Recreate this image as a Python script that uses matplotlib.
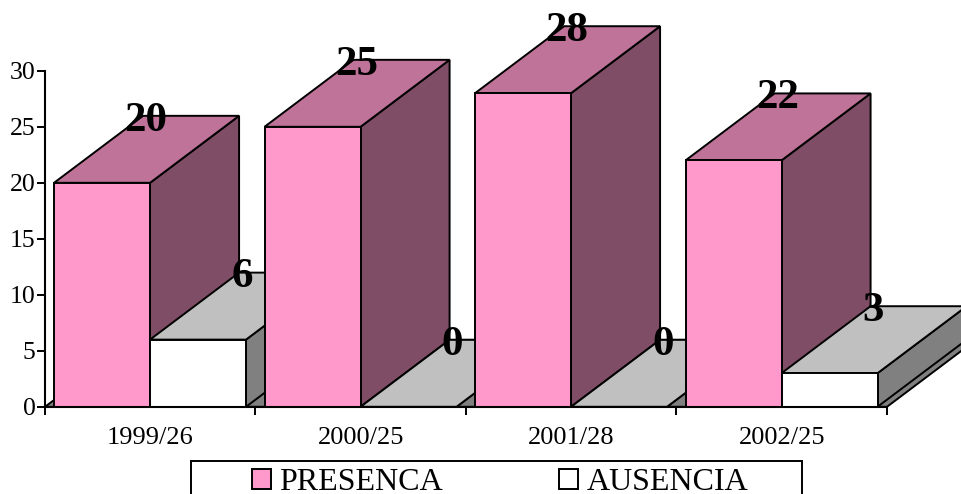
import matplotlib
matplotlib.use("Agg")
import matplotlib.pyplot as plt

from matplotlib.patches import Patch, Polygon, Rectangle

categories = ["1999/26", "2000/25", "2001/28", "2002/25"]
presenca   = [20, 25, 28, 22]
ausencia   = [6, 0, 0, 3]

WIDTH, HEIGHT = 962, 494
EDGE = "black"
LINE = 1.4

# pseudo 3D depth, in axis units
BAR_WIDTH = 0.456
BAR_GAP   = 0.043
DEPTH_X   = 0.423
DEPTH_Y   = 5.98

PINK_FACES = ("#FF99CC", "#BF7399", "#804D66")
WHITE_FACES = ("#FFFFFF", "#C0C0C0", "#808080")

plt.rcParams["font.family"] = ["Liberation Serif", "DejaVu Serif"]


def draw_box(ax, left, value, faces):
    front, top, side = faces
    right = left + BAR_WIDTH
    shapes = [
        (side, [(right, 0), (right + DEPTH_X, DEPTH_Y), (right + DEPTH_X, value + DEPTH_Y), (right, value)]),
        (top, [(left, value), (right, value), (right + DEPTH_X, value + DEPTH_Y), (left + DEPTH_X, value + DEPTH_Y)]),
        (front, [(left, 0), (right, 0), (right, value), (left, value)]),
    ]
    for color, corners in shapes:
        ax.add_patch(Polygon(corners, closed=True, facecolor=color, edgecolor=EDGE,
                             linewidth=LINE, joinstyle="miter", clip_on=False))
    ax.text(left + (BAR_WIDTH + DEPTH_X) / 2 - 0.003, value + 5.55, str(value), ha="center", va="center",
            fontsize=31, fontweight="bold", color="black", zorder=5, clip_on=False)


def main():
    fig = plt.figure(figsize=(WIDTH / 100, HEIGHT / 100), dpi=100, facecolor="white")
    ax = fig.add_axes([45 / WIDTH, 1 - 406.8 / HEIGHT, 842 / WIDTH, 336 / HEIGHT])
    ax.patch.set_alpha(0)
    ax.set_xlim(0, len(categories))
    ax.set_ylim(0, 30)

    # floor under the bars
    ax.add_patch(Polygon([(0, 0), (len(categories), 0), (len(categories) + DEPTH_X, DEPTH_Y), (DEPTH_X, DEPTH_Y)],
                         closed=True, facecolor="#808080", edgecolor=EDGE, linewidth=LINE, clip_on=False))

    for i in range(len(categories)):
        draw_box(ax, i + BAR_GAP, presenca[i], PINK_FACES)
        draw_box(ax, i + BAR_GAP + BAR_WIDTH, ausencia[i], WHITE_FACES)

    for name in ["top", "right"]:
        ax.spines[name].set_visible(False)
    for name in ["left", "bottom"]:
        ax.spines[name].set_linewidth(LINE + 0.1)
        ax.spines[name].set_zorder(4)

    ax.set_yticks(range(0, 31, 5))
    ax.set_xticks(range(len(categories) + 1))
    ax.set_xticklabels([])
    ax.set_xticks([i + 0.5 for i in range(len(categories))], minor=True)
    ax.set_xticklabels(categories, minor=True)
    ax.tick_params(axis="y", length=5.5, width=LINE, pad=1.2, labelsize=18.5)
    ax.tick_params(axis="x", which="major", length=6, width=LINE)
    ax.tick_params(axis="x", which="minor", length=0, pad=14.5, labelsize=19)

    # legend box runs off the bottom of the figure
    fig.add_artist(Rectangle((191 / WIDTH, -0.02), 611 / WIDTH, 1 - 461 / HEIGHT + 0.02,
                             transform=fig.transFigure, facecolor="white", edgecolor=EDGE, linewidth=LINE))
    handles = [Patch(facecolor=PINK_FACES[0], edgecolor=EDGE, linewidth=LINE),
               Patch(facecolor=WHITE_FACES[0], edgecolor=EDGE, linewidth=LINE)]
    fig.legend(handles, ["PRESENCA", "AUSENCIA"], ncol=2, frameon=False, fontsize=23,
               loc="lower left", bbox_to_anchor=(252 / WIDTH, 1 - 497 / HEIGHT), borderpad=0, borderaxespad=0,
               handlelength=0.6, handleheight=0.6, handletextpad=0.26, columnspacing=3.62)

    fig.savefig("out.png", dpi=100)


if __name__ == "__main__":
    main()
